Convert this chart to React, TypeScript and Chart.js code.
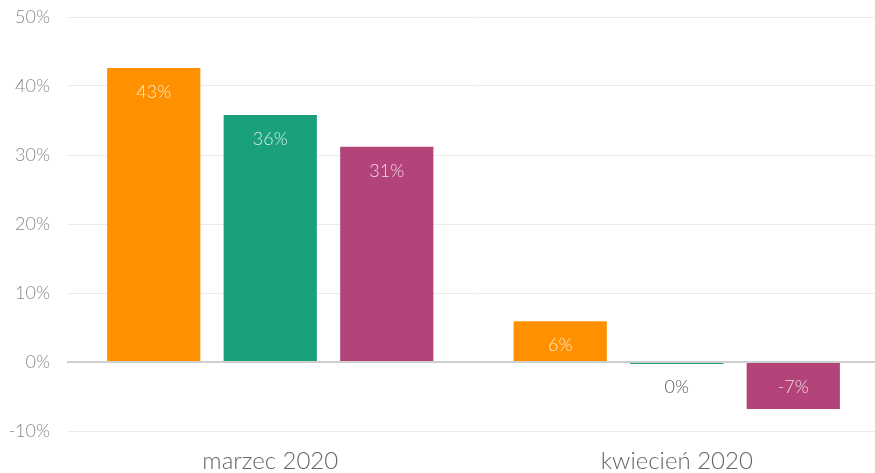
import React, { useEffect, useRef } from "react";
import { Chart, registerables } from "chart.js";

Chart.register(...registerables);

const categories = ["marzec 2020", "kwiecień 2020"];
const seriesA = [42.6, 5.9];
const seriesB = [35.8, -0.3];
const seriesC = [31.2, -6.8];
const seriesLabelsA = ["43%", "6%"];
const seriesLabelsB = ["36%", "0%"];
const seriesLabelsC = ["31%", "-7%"];
const colors = ["#FF9100", "#1BA07D", "#B3447A"];

const barLabelPlugin = {
  id: "barLabels",
  afterDatasetsDraw(chart: any) {
    const ctx = chart.ctx;
    const labelSets = [seriesLabelsA, seriesLabelsB, seriesLabelsC];
    ctx.save();
    ctx.font = "300 18px Lato";
    ctx.textAlign = "center";
    ctx.textBaseline = "middle";
    chart.data.datasets.forEach((ds: any, di: number) => {
      const meta = chart.getDatasetMeta(di);
      meta.data.forEach((bar: any, i: number) => {
        const top = Math.min(bar.y, bar.base);
        const height = Math.abs(bar.base - bar.y);
        const small = height < 30;
        ctx.fillStyle = small ? "#555" : "rgba(255,255,255,0.8)";
        ctx.fillText(labelSets[di][i], bar.x, top + 24);
      });
    });
    ctx.restore();
  },
};

export default function App() {
  const ref = useRef<HTMLCanvasElement>(null);
  useEffect(() => {
    document.body.style.margin = "0";
    document.body.style.overflow = "hidden";
    const chart = new Chart(ref.current!, {
      type: "bar",
      data: {
        labels: categories,
        datasets: [
          { data: seriesA, backgroundColor: colors[0] },
          { data: seriesB, backgroundColor: colors[1] },
          { data: seriesC, backgroundColor: colors[2] },
        ],
      },
      options: {
        animation: false,
        responsive: false,
        maintainAspectRatio: false,
        layout: { padding: { top: 17, right: 0, left: 0, bottom: 0 } },
        datasets: { bar: { categoryPercentage: 0.86, barPercentage: 0.8 } },
        plugins: { legend: { display: false }, tooltip: { enabled: false } },
        scales: {
          x: {
            grid: { display: false },
            border: { display: false },
            ticks: { color: "#666", font: { family: "Lato", size: 24, weight: "300" }, padding: 8 },
            afterFit(s: any) { s.height = 42; },
          },
          y: {
            min: -10,
            max: 50,
            ticks: {
              stepSize: 10,
              color: "#888",
              padding: 17,
              font: { family: "Lato", size: 18, weight: "300" },
              callback: (v: any) => v + "%",
            },
            grid: {
              color: (c: any) => (c.tick && c.tick.value === 0 ? "#cfcfcf" : "#ececec"),
              lineWidth: (c: any) => (c.tick && c.tick.value === 0 ? 2 : 1),
              drawTicks: false,
            },
            border: { display: false },
            afterFit(s: any) { s.width = 67; s.paddingTop = 0; s.paddingBottom = 0; },
          },
        },
      },
      plugins: [barLabelPlugin],
    });
    return () => chart.destroy();
  }, []);
  return (
    <div style={{ width: 875, height: 473, overflow: "hidden" }}>
      <canvas ref={ref} width={880} height={473} style={{ display: "block" }} />
    </div>
  );
}
